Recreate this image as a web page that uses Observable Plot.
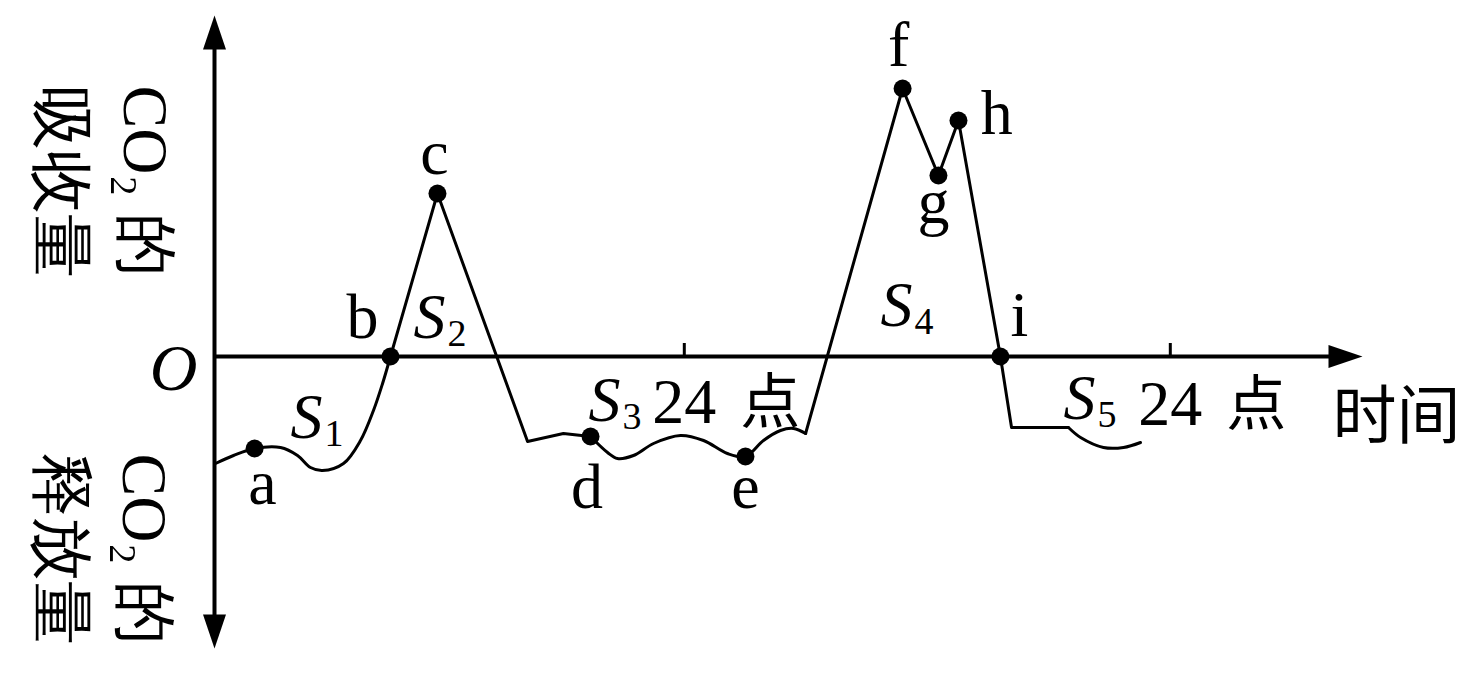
<!DOCTYPE html>
<html><head><meta charset="utf-8">
<script src="https://cdn.jsdelivr.net/npm/d3@7"></script>
<script src="https://cdn.jsdelivr.net/npm/@observablehq/plot@0.6"></script>
<style>body{margin:0;background:#fff;} #chart svg{display:block;}</style>
</head><body><div id="chart"></div>
<script>
// ---- curve data (time: hours from the y-axis, value: CO2 uptake, + absorb / - release) ----
const seg1Time  = [0.05, 0.94, 1.98, 3.26, 4.10, 4.74, 5.33, 6.37, 7.21, 7.85, 8.30, 8.69];
const seg1Value = [-5.35, -4.95, -4.6, -4.55, -4.95, -5.55, -5.7, -5.35, -4.2, -2.7, -1.35, 0];
const seg2Time  = [8.69, 11.01, 15.46, 17.23, 18.57];
const seg2Value = [0, 8.15, -4.25, -3.85, -4.0];
const seg3Time  = [18.57, 19.41, 19.90, 20.69, 21.68, 23.01, 24.15, 25.33, 26.22, 27.11, 27.95, 28.59, 29.19];
const seg3Value = [-4.0, -4.8, -5.1, -4.95, -4.35, -3.95, -4.2, -4.85, -5.0, -4.2, -3.7, -3.6, -3.85];
const seg4Time  = [29.19, 33.98, 35.75, 36.74, 38.81, 39.36, 42.17];
const seg4Value = [-3.85, 13.4, 9.05, 11.8, 0, -3.55, -3.55];
const seg5Time  = [42.17, 42.77, 43.90, 44.89, 45.73];
const seg5Value = [-3.55, -4.05, -4.55, -4.55, -4.3];

// ---- marked points ----
const pointNames      = ["a", "b", "c", "d", "e", "f", "g", "h", "i"];
const pointTime       = [1.98, 8.69, 11.01, 18.57, 26.22, 33.98, 35.75, 36.74, 38.81];
const pointValue      = [-4.6, 0, 8.15, -4.0, -5.0, 13.4, 9.05, 11.8, 0];
const pointLabelTime  = [2.37, 7.31, 10.86, 18.4, 26.22, 33.78, 35.5, 38.63, 39.75];
const pointLabelValue = [-7.35, 0.95, 9.15, -7.55, -7.55, 14.55, 6.7, 11.15, 1.05];

// ---- area labels S1..S5 ----
const areaIndex = ["1", "2", "3", "4", "5"];
const areaTime  = [3.75, 9.83, 18.47, 32.89, 41.93];
const areaValue = [-4.05, 0.95, -3.2, 1.55, -3.1];

// ---- x ticks ----
const tickTime  = [23.2, 47.2];
const tickText  = ["24", "24"];
const tickUnit  = ["点", "点"];
const tickLabelValue = [-3.3, -3.4];

// ---- axes ----
const axisXEnd = 56.69, axisYTop = 17.05, axisYBottom = -14.6;
const xTitle = "时间";
const yTitleLines = ["CO₂ 的", "吸收量", "CO₂ 的", "释放量"];
const yTitleTime  = [-3.45, -7.6, -3.5, -7.6];
const yTitleValue = [13.55, 13.55, -4.85, -4.8];

// ---- layout (pixels) ----
const W = 1468, H = 673, originX = 214, originY = 356, pxPerHour = 20.25, pxPerUnit = 20;

const rows = (t, v) => t.map((d, i) => ({t: d, v: v[i]}));
const points = pointNames.map((n, i) => ({n, t: pointTime[i], v: pointValue[i], lt: pointLabelTime[i], lv: pointLabelValue[i]}));
const areas = areaIndex.map((n, i) => ({n, t: areaTime[i], v: areaValue[i]}));
const ticks = tickTime.map((t, i) => ({t, text: tickText[i], unit: tickUnit[i], v: tickLabelValue[i]}));
const yTitles = yTitleLines.map((s, i) => ({s, t: yTitleTime[i], v: yTitleValue[i]}));
const arrows = [{t: 0, v: axisYTop, r: 0}, {t: 0, v: axisYBottom, r: 180}, {t: axisXEnd, v: 0, r: 90}];

const arrowHead = {draw(ctx) { ctx.moveTo(0, 0); ctx.lineTo(11.5, 34); ctx.lineTo(-11.5, 34); ctx.closePath(); }};

const lineStyle = {x: "t", y: "v", stroke: "black", strokeWidth: 3};
const latin = {fill: "black", fontFamily: "Liberation Serif"};
const cjk = {fill: "black", fontFamily: "Noto Sans CJK SC"};

const chart = Plot.plot({
  width: W, height: H,
  marginLeft: 0, marginRight: 0, marginTop: 0, marginBottom: 0,
  x: {domain: [-originX / pxPerHour, (W - originX) / pxPerHour], range: [0, W], axis: null},
  y: {domain: [-(H - originY) / pxPerUnit, originY / pxPerUnit], range: [H, 0], axis: null},
  style: {background: "white", color: "black"},
  marks: [
    Plot.ruleY([0], {x1: 0, x2: axisXEnd - 1, stroke: "black", strokeWidth: 4}),
    Plot.ruleX([0], {y1: axisYBottom + 1, y2: axisYTop - 1, stroke: "black", strokeWidth: 4}),
    Plot.dot(arrows, {x: "t", y: "v", rotate: "r", symbol: arrowHead, fill: "black", stroke: "none", r: 10}),
    Plot.ruleX(ticks, {x: "t", y1: 0, y2: 0.65, stroke: "black", strokeWidth: 3}),
    Plot.line(rows(seg1Time, seg1Value), {...lineStyle, curve: "catmull-rom"}),
    Plot.line(rows(seg2Time, seg2Value), {...lineStyle, curve: "linear"}),
    Plot.line(rows(seg3Time, seg3Value), {...lineStyle, curve: "catmull-rom"}),
    Plot.line(rows(seg4Time, seg4Value), {...lineStyle, curve: "linear"}),
    Plot.line(rows(seg5Time, seg5Value), {...lineStyle, curve: "catmull-rom"}),
    Plot.dot(points, {x: "t", y: "v", r: 9, fill: "black", stroke: "none"}),
    Plot.text(points, {...latin, x: "lt", y: "lv", text: "n", fontSize: 64, textAnchor: "middle", lineAnchor: "bottom"}),
    Plot.text(areas, {...latin, x: "t", y: "v", text: () => "S", fontSize: 64, fontStyle: "italic", textAnchor: "start", lineAnchor: "bottom"}),
    Plot.text(areas, {...latin, x: "t", y: "v", text: "n", fontSize: 38, dx: 34, dy: 8, textAnchor: "start", lineAnchor: "bottom"}),
    Plot.text(ticks, {...latin, x: "t", y: "v", text: "text", fontSize: 64, textAnchor: "middle", lineAnchor: "bottom"}),
    Plot.text(ticks, {...cjk, x: "t", y: "v", text: "unit", fontSize: 60, dx: 86, textAnchor: "middle", lineAnchor: "bottom"}),
    Plot.text([xTitle], {...cjk, x: 58.37, y: -4.05, text: d => d, fontSize: 64, textAnchor: "middle", lineAnchor: "bottom"}),
    Plot.text(["O"], {...latin, x: -2.02, y: -1.65, text: d => d, fontSize: 66, fontStyle: "italic", textAnchor: "middle", lineAnchor: "bottom"}),
    Plot.text(yTitles, {...latin, x: "t", y: "v", text: "s", rotate: 90, fontSize: 64, textAnchor: "start", lineAnchor: "middle"})
  ]
});
document.getElementById("chart").appendChild(chart);
</script>
</body></html>
